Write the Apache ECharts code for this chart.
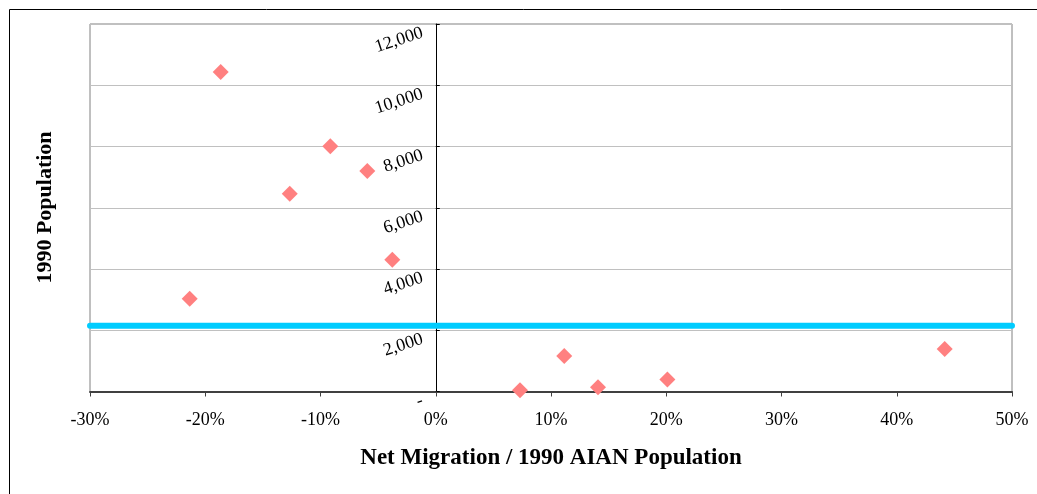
<!DOCTYPE html>
<html>
<head>
<meta charset="utf-8">
<script src="https://cdn.jsdelivr.net/npm/echarts@6/dist/echarts.min.js"></script>
<style>
html,body{margin:0;padding:0;background:#fff;}
#chart{width:1037px;height:494px;}
</style>
</head>
<body>
<div id="chart"></div>
<script>
// Net migration (% of 1990 AIAN population) vs 1990 population
const netMigrationPct = [-21.35, -18.66, -12.67, -9.15, -5.94, -3.77, 7.31, 11.15, 14.08, 20.1, 44.16];
const population1990  = [3030, 10430, 6460, 8010, 7200, 4300, 40, 1160, 140, 390, 1390];
const thresholdX = [-30, 50];
const thresholdY = [2150, 2150];
const xTicks = [-30, -20, -10, 0, 10, 20, 30, 40, 50];
const yTicks = [0, 2000, 4000, 6000, 8000, 10000, 12000];
const xTitle = 'Net Migration / 1990 AIAN Population';
const yTitle = '1990 Population';

const points = netMigrationPct.map((x, i) => [x, population1990[i]]);
const lineData = thresholdX.map((x, i) => [x, thresholdY[i]]);
const serif = '"Liberation Serif", "Times New Roman", serif';

const W = 1037, gridLeft = 90, gridRight = 25;
const plotW = W - gridLeft - gridRight;
const xMin = xTicks[0], xMax = xTicks[xTicks.length - 1];
const yAxisOffset = -plotW * (0 - xMin) / (xMax - xMin);

const chart = echarts.init(document.getElementById('chart'), null, {renderer: 'canvas'});
chart.setOption({
  animation: false,
  backgroundColor: '#fff',
  grid: {left: gridLeft, right: gridRight, top: 24, bottom: 102.5, show: true, borderColor: '#808080', borderWidth: 1, containLabel: false},
  xAxis: {
    type: 'value',
    min: xMin, max: xMax, interval: 10,
    name: xTitle, nameLocation: 'middle', nameGap: 55,
    nameTextStyle: {fontFamily: serif, fontSize: 23, fontWeight: 'bold', color: '#000'},
    axisLine: {onZero: false, lineStyle: {color: '#404040', width: 2}},
    axisTick: {show: true, inside: false, length: 5, lineStyle: {color: '#404040', width: 1}},
    axisLabel: {fontFamily: serif, fontSize: 18, color: '#000', margin: 20, formatter: v => v + '%'},
    splitLine: {show: false}
  },
  yAxis: {
    type: 'value',
    min: yTicks[0], max: yTicks[yTicks.length - 1], interval: 2000,
    offset: yAxisOffset,
    axisLine: {show: true, onZero: false, lineStyle: {color: '#000', width: 1}},
    axisTick: {show: true, inside: true, length: 4, lineStyle: {color: '#000'}},
    axisLabel: {
      fontFamily: serif, fontSize: 18, color: '#000', rotate: 18, margin: 16,
      verticalAlign: 'top',
      formatter: v => v === 0 ? '-' : v.toLocaleString('en-US')
    },
    splitLine: {show: true, lineStyle: {color: '#c0c0c0', width: 1}}
  },
  graphic: [
    {type: 'rect', shape: {x: 9.5, y: 9.5, width: 1100, height: 600}, style: {fill: null, stroke: '#000', lineWidth: 1}, z: 100, silent: true},
    {type: 'text', x: 45, y: 207.5, rotation: Math.PI / 2,
     style: {text: yTitle, fontFamily: serif, fontSize: 22, fontWeight: 'bold', fill: '#000', align: 'center', verticalAlign: 'middle'}}
  ],
  series: [
    {
      type: 'line', data: lineData, symbol: 'none', silent: true, z: 3,
      lineStyle: {color: '#00CCFF', width: 6, cap: 'round'}
    },
    {
      type: 'scatter', data: points, symbol: 'diamond', symbolSize: 16, z: 4,
      itemStyle: {color: '#FF8080', opacity: 1}
    }
  ]
});
</script>
</body>
</html>
